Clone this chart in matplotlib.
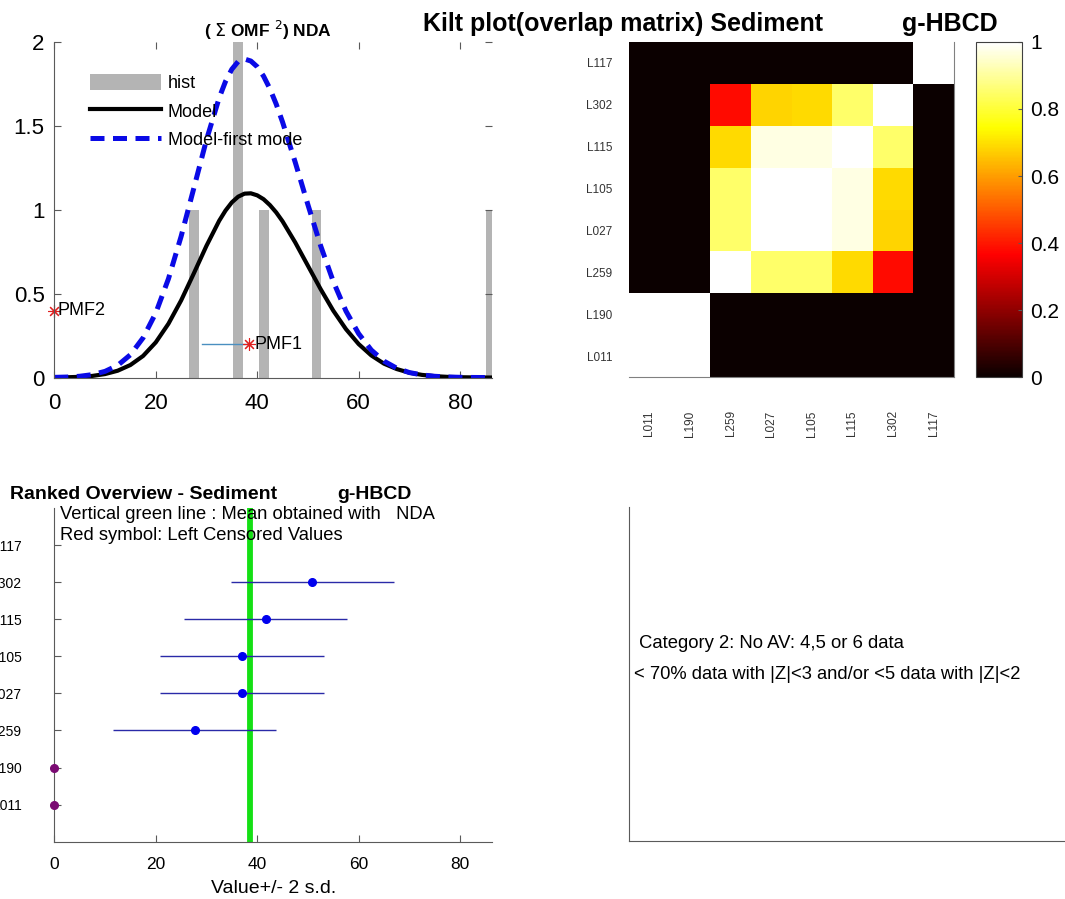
import numpy as np
import matplotlib
matplotlib.use("Agg")
import matplotlib.pyplot as plt

plt.rcParams['font.family'] = ['Liberation Sans', 'DejaVu Sans']

# --- data ---
hist_centers = [27.6, 36.2, 41.4, 51.7, 86.0]
hist_counts = [1, 2, 1, 1, 1]

model_x = [0, 2.5, 5, 7.5, 10, 12.5, 15, 17.5, 20, 22.5, 25, 27.5, 30, 32.5, 33.75,
           35, 36.25, 37.5, 38.75, 40, 41.25, 42.5, 43.75, 45, 47.5, 50, 52.5, 55,
           57.5, 60, 62.5, 65, 67.5, 70, 72.5, 75, 77.5, 80, 82.5, 85, 87.5]
model_y = [0.0007, 0.0019, 0.0044, 0.0099, 0.021, 0.041, 0.075, 0.129, 0.210, 0.321,
           0.460, 0.621, 0.786, 0.935, 0.996, 1.045, 1.079, 1.097, 1.099, 1.087, 1.064,
           1.029, 0.985, 0.932, 0.806, 0.667, 0.528, 0.399, 0.289, 0.200, 0.132,
           0.083, 0.051, 0.029, 0.016, 0.0085, 0.0043, 0.0021, 0.001, 0.0004, 0.0002]
first_mode_y = [0.0013, 0.0032, 0.0078, 0.0175, 0.037, 0.073, 0.136, 0.237, 0.385,
                0.589, 0.842, 1.129, 1.418, 1.668, 1.766, 1.839, 1.885, 1.900, 1.888,
                1.854, 1.798, 1.723, 1.631, 1.524, 1.284, 1.031, 0.787, 0.573, 0.397,
                0.262, 0.164, 0.098, 0.056, 0.030, 0.0157, 0.0077, 0.0036, 0.0016,
                0.0007, 0.0003, 0.0001]

pmf2 = (0.0, 0.4)
pmf1 = (38.4, 0.2)
pmf1_line_start = 29.2

labs = ['L011', 'L190', 'L259', 'L027', 'L105', 'L115', 'L302', 'L117']
overlap = [
    [1, 1, 0, 0, 0, 0, 0, 0],
    [1, 1, 0, 0, 0, 0, 0, 0],
    [0, 0, 1, 0.85, 0.85, 0.69, 0.38, 0],
    [0, 0, 0.85, 1, 1, 0.97, 0.68, 0],
    [0, 0, 0.85, 1, 1, 0.97, 0.69, 0],
    [0, 0, 0.69, 0.97, 0.97, 1, 0.85, 0],
    [0, 0, 0.38, 0.68, 0.69, 0.85, 1, 0],
    [0, 0, 0, 0, 0, 0, 0, 1],
]

rank_labs = ['L011', 'L190', 'L259', 'L027', 'L105', 'L115', 'L302', 'L117']
rank_vals = [27.7, 37.0, 37.0, 41.65, 50.9]      # L259 .. L302
rank_pos = [3, 4, 5, 6, 7]
two_sd = [16.1, 16.1, 16.1, 16.1, 16.1]
censored_vals = [0, 0]                          # L011, L190
censored_pos = [1, 2]
mean_nda = 38.6

spine_col = '#5a5a5a'

fig = plt.figure(figsize=(10.65, 8.99), dpi=100)

# ---------- top left: histogram + model ----------
ax1 = fig.add_axes([0.051, 0.580, 0.411, 0.373])
h_bar = ax1.bar(hist_centers, hist_counts, width=1.9, color='#b4b4b4', label='hist')
h_mod, = ax1.plot(model_x, model_y, color='black', lw=3, label='Model')
h_first, = ax1.plot(model_x, first_mode_y, color='#0a0ae6', lw=3.6,
                    ls=(0, (2.8, 1.7)), label='Model-first mode')
ax1.plot([pmf1_line_start, pmf1[0]], [pmf1[1], pmf1[1]], color='#4a8fc0', lw=1)
ax1.plot(*pmf2, marker=(8, 2, 0), color='#e02020', ms=9, mew=0.8, clip_on=False)
ax1.plot(*pmf1, marker=(8, 2, 0), color='#e02020', ms=9, mew=0.8, clip_on=False)
ax1.text(pmf2[0] + 0.6, pmf2[1], 'PMF2', fontsize=13, va='center', ha='left')
ax1.text(pmf1[0] + 1.0, pmf1[1], 'PMF1', fontsize=13, va='center', ha='left')
ax1.set_xlim(0, 86.3)
ax1.set_ylim(0, 2)
ax1.set_xticks([0, 20, 40, 60, 80])
ax1.set_yticks([0, 0.5, 1, 1.5, 2])
ax1.set_yticklabels(['0', '0.5', '1', '1.5', '2'])
ax1.tick_params(direction='in', top=True, right=True, labelsize=16, length=5,
                color=spine_col)
ax1.tick_params(axis='x', pad=11)
ax1.tick_params(axis='y', pad=7)
for s in ['top', 'right']:
    ax1.spines[s].set_visible(False)
for s in ['left', 'bottom']:
    ax1.spines[s].set_color(spine_col)
ax1.legend([h_bar, h_mod, h_first], ['hist', 'Model', 'Model-first mode'],
           loc='upper left', bbox_to_anchor=(0.082, 0.905), frameon=False,
           fontsize=13, handlelength=3.9, handleheight=1.0, borderpad=0,
           borderaxespad=0, labelspacing=0.55, handletextpad=0.4)
fig.text(0.2516, 0.9666, r'( $\Sigma$ OMF $^{2}$) NDA', fontsize=12.5,
         fontweight='bold', ha='center', va='center')

# ---------- top right: kilt plot ----------
ax2 = fig.add_axes([0.5906, 0.5806, 0.3052, 0.3727])
mesh = ax2.pcolormesh(np.array(overlap), cmap='hot', vmin=0, vmax=1)
ax2.set_xticks(np.arange(len(labs)) + 0.5)
ax2.set_yticks(np.arange(len(labs)) + 0.5)
ax2.set_xticklabels(labs, rotation=90, fontsize=8.5, color='#333333')
ax2.set_yticklabels(labs, fontsize=8.5, color='#333333')
ax2.tick_params(length=0)
ax2.tick_params(axis='x', pad=24)
ax2.tick_params(axis='y', pad=12)
for s in ['top', 'left']:
    ax2.spines[s].set_visible(False)
for s in ['bottom', 'right']:
    ax2.spines[s].set_color('#808080')

cax = fig.add_axes([0.9164, 0.5806, 0.0432, 0.3727])
cb = fig.colorbar(mesh, cax=cax, ticks=[0, 0.2, 0.4, 0.6, 0.8, 1])
cb.set_ticklabels(['0', '0.2', '0.4', '0.6', '0.8', '1'])
cax.tick_params(direction='in', labelsize=15, length=3, pad=6, color=spine_col)
cb.outline.set_edgecolor('#404040')

fig.text(0.7728, 0.973, 'Kilt plot(overlap matrix) Sediment', fontsize=18,
         fontweight='bold', ha='right', va='center')
fig.text(0.847, 0.973, 'g-HBCD', fontsize=18, fontweight='bold', ha='left',
         va='center')

# ---------- bottom left: ranked overview ----------
ax3 = fig.add_axes([0.051, 0.0637, 0.411, 0.3712])
ax3.axvline(mean_nda, color='#14e014', lw=4.2, zorder=1)
lo = [v - s for v, s in zip(rank_vals, two_sd)]
hi = [v + s for v, s in zip(rank_vals, two_sd)]
ax3.hlines(rank_pos, lo, hi, color='#2a2aa8', lw=1, zorder=2)
ax3.plot(rank_vals, rank_pos, 'o', color='#0000ee', ms=5.5, zorder=3)
ax3.plot(censored_vals, censored_pos, 'o', color='#7a0a72', ms=5.5, zorder=3,
         clip_on=False)
ax3.set_xlim(0, 86.3)
ax3.set_ylim(0, 9)
ax3.set_xticks([0, 20, 40, 60, 80])
ax3.set_yticks(range(1, len(rank_labs) + 1))
ax3.set_yticklabels(rank_labs, fontsize=10)
ax3.tick_params(direction='in', length=5, color=spine_col)
ax3.tick_params(axis='x', labelsize=12.5, pad=11)
ax3.tick_params(axis='y', pad=23)
for s in ['top', 'right']:
    ax3.spines[s].set_visible(False)
for s in ['left', 'bottom']:
    ax3.spines[s].set_color(spine_col)
ax3.set_xlabel('Value+/- 2 s.d.', fontsize=14, labelpad=6)
ax3.text(1.1, 8.83, 'Vertical green line : Mean obtained with   NDA', fontsize=13.2,
         va='center', ha='left')
ax3.text(1.1, 8.26, 'Red symbol: Left Censored Values', fontsize=13.2,
         va='center', ha='left')
fig.text(0.0094, 0.4505, 'Ranked Overview - Sediment', fontsize=14,
         fontweight='bold', ha='left', va='center')
fig.text(0.317, 0.4505, 'g-HBCD', fontsize=14, fontweight='bold', ha='left',
         va='center')

# ---------- bottom right: category text ----------
ax4 = fig.add_axes([0.5906, 0.0645, 0.45, 0.3715])
ax4.set_xticks([])
ax4.set_yticks([])
for s in ['top', 'right']:
    ax4.spines[s].set_visible(False)
for s in ['left', 'bottom']:
    ax4.spines[s].set_color(spine_col)
fig.text(0.600, 0.2847, 'Category 2: No AV: 4,5 or 6 data', fontsize=13.3,
         ha='left', va='center')
fig.text(0.5953, 0.2492, '< 70% data with |Z|<3 and/or <5 data with |Z|<2',
         fontsize=13.2, ha='left', va='center')

fig.savefig('out.png', dpi=100)
